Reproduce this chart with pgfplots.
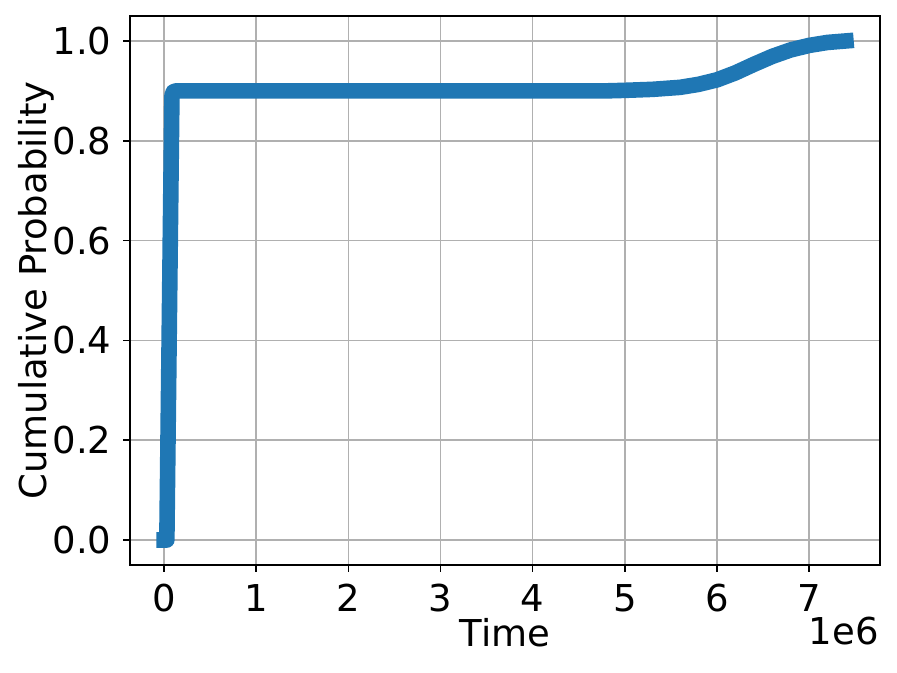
\documentclass[border=0pt]{standalone}
\usepackage{pgfplots}
\pgfplotsset{compat=1.18}
\usepackage{fontspec}
\setmainfont{DejaVu Sans}
\definecolor{mplblue}{HTML}{1F77B4}
\definecolor{mplgrid}{HTML}{B0B0B0}
\newcommand\figfont{\fontsize{18.5}{22}\selectfont}

\begin{document}
\begin{tikzpicture}[font=\figfont]
\begin{axis}[
    scale only axis,
    width=375pt, height=274.5pt,
    xmin=-370000, xmax=7770000,
    ymin=-0.05, ymax=1.05,
    xtick={0,1000000,2000000,3000000,4000000,5000000,6000000,7000000},
    xticklabels={0,1,2,3,4,5,6,7},
    scaled x ticks=false,
    ytick={0,0.2,0.4,0.6,0.8,1.0},
    /pgf/number format/assume math mode=true,
    tick pos=left,
    tick align=outside,
    major tick length=3.4pt,
    tick style={black, line width=0.78pt},
    axis line style={black, line width=0.78pt},
    grid=major,
    grid style={mplgrid, line width=0.78pt},
    every tick label/.append style={font=\figfont},
    xticklabel style={inner sep=0pt, anchor=north, yshift=-6pt},
    yticklabel style={/pgf/number format/fixed, /pgf/number format/fixed zerofill,
        /pgf/number format/precision=1, inner sep=0pt, anchor=east, xshift=-5.7pt},
    xlabel={Time},
    ylabel={Cumulative Probability},
    label style={font=\figfont},
    xlabel style={inner sep=0pt, at={(rel axis cs:0.5,0)}, anchor=base, yshift=-41pt},
    ylabel style={inner sep=0pt, at={(rel axis cs:0,0.5)}, anchor=base, yshift=41.5pt},
    clip=false,
]
\addplot[mplblue, line width=7.8pt, line join=round, line cap=rect] coordinates {
    (0,0)
    (30000,0)
    (85000,0.89)
    (100000,0.898)
    (130000,0.9)
    (1000000,0.9)
    (2000000,0.9)
    (3000000,0.9)
    (4000000,0.9)
    (4800000,0.9)
    (5000000,0.901)
    (5300000,0.903)
    (5600000,0.907)
    (5800000,0.913)
    (6000000,0.922)
    (6200000,0.936)
    (6400000,0.953)
    (6600000,0.969)
    (6800000,0.982)
    (7000000,0.991)
    (7200000,0.997)
    (7400000,1.0)
};
\node[anchor=base east, inner sep=0pt, font=\figfont] at (rel axis cs:1,0) [yshift=-40pt, xshift=-0.5pt] {1e6};
\end{axis}
\pgfresetboundingbox
\path[use as bounding box] ([shift={(-65pt,-54pt)}]current axis.south west) rectangle ([shift={(8.5pt,8pt)}]current axis.north east);
\end{tikzpicture}
\end{document}
